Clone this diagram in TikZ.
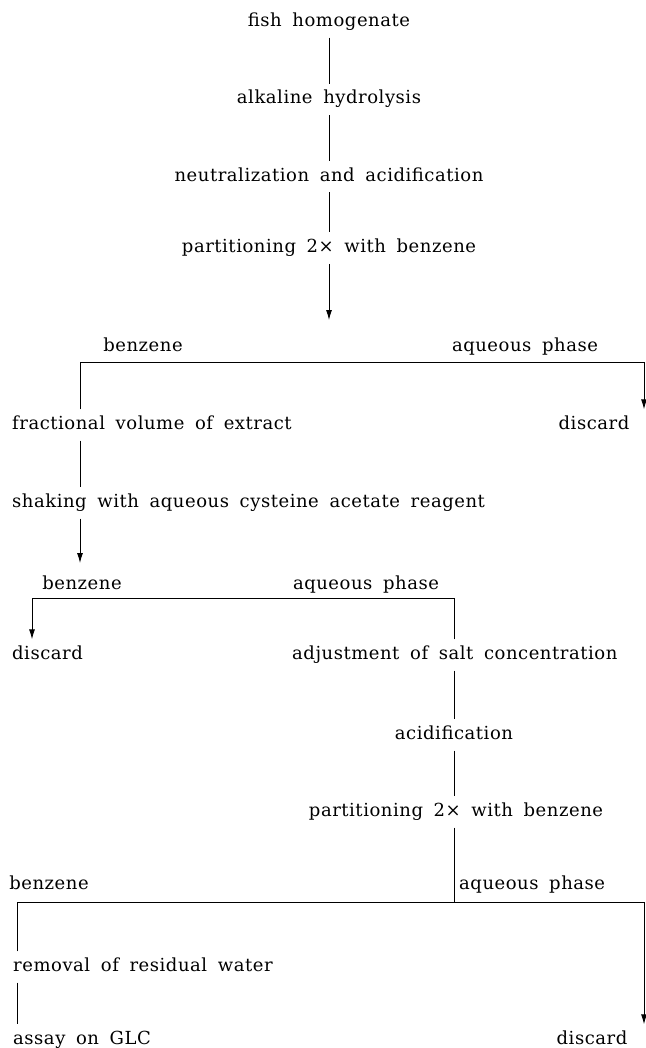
\documentclass[tikz,border=0pt]{standalone}
\usepackage{fontspec}
\setmainfont{DejaVu Serif}[LetterSpace=3, WordSpace=1.7]
\usetikzlibrary{arrows.meta,positioning}
\tikzset{
    flow/.style={line width=0.9pt},
    flowarrow/.style={flow, -{Latex[length=10pt, width=6pt]}}
}

\begin{document}
\begin{tikzpicture}[
        x=1pt, y=-1pt,
        node distance=46pt,
        stepnode/.style={inner xsep=0pt, inner ysep=7pt, text height=13pt, text depth=4pt, font=\fontsize{18}{22}\selectfont},
        leftnode/.style={stepnode, anchor=west}
    ]
    \useasboundingbox (0,0) rectangle (645,1048);

    % main column
    \node[stepnode] (fish) at (329,22) {fish homogenate};
    \node[stepnode, below=of fish] (alkali) {alkaline hydrolysis};
    \node[stepnode, below=of alkali] (neutral) {neutralization and acidification};
    \node[stepnode, below=40pt of neutral] (part1) {partitioning 2× with benzene};
    \coordinate (split1) at (329,320);

    % first split
    \coordinate (bar1l) at (80,362);
    \coordinate (bar1r) at (644,362);
    \node[stepnode] (benz1) at (143,347) {benzene};
    \node[stepnode] (aq1) at (525,347) {aqueous phase};
    \node[leftnode] (fract) at (12,425) {fractional volume of extract};
    \node[stepnode] (disc1) at (594,425) {discard};
    \node[leftnode] (shake) at (12,503) {shaking with aqueous cysteine acetate reagent};
    \coordinate (split2) at (80,563);

    % second split
    \coordinate (bar2l) at (32,598);
    \coordinate (bar2r) at (454,598);
    \node[stepnode] (benz2) at (82,585) {benzene};
    \node[stepnode] (aq2) at (366,585) {aqueous phase};
    \node[leftnode] (disc2) at (12,655) {discard};
    \node[leftnode] (adjust) at (292,655) {adjustment of salt concentration};
    \node[stepnode] (acid) at (454,735) {acidification};
    \node[stepnode] (part2) at (456,812) {partitioning 2× with benzene};

    % third split
    \coordinate (bar3l) at (17,902);
    \coordinate (bar3m) at (454,902);
    \coordinate (bar3r) at (644,902);
    \node[stepnode] (benz3) at (49,885) {benzene};
    \node[leftnode] (aq3) at (459,885) {aqueous phase};
    \node[leftnode] (removal) at (13,967) {removal of residual water};
    \node[leftnode] (assay) at (13,1040) {assay on GLC};
    \node[stepnode] (disc3) at (592,1040) {discard};

    % connectors
    \draw[flow] (fish) -- (alkali);
    \draw[flow] (alkali) -- (neutral);
    \draw[flow] (neutral) -- (part1);
    \draw[flowarrow] (part1) -- (split1);

    \draw[flow] (bar1l |- fract.north) -- (bar1l) -- (bar1r);
    \draw[flowarrow] (bar1r) -- (bar1r |- disc1.north);
    \draw[flow] (fract.south -| bar1l) -- (shake.north -| bar1l);
    \draw[flowarrow] (shake.south -| bar1l) -- (split2);

    \draw[flowarrow] (bar2r |- adjust.north) -- (bar2r) -- (bar2l) -- (bar2l |- disc2.north);
    \draw[flow] (adjust.south -| bar2r) -- (acid);
    \draw[flow] (acid) -- (part2.north -| acid);
    \draw[flow] (part2.south -| acid) -- (bar3m);

    \draw[flow] (bar3l |- removal.north) -- (bar3l) -- (bar3r);
    \draw[flowarrow] (bar3r) -- (bar3r |- disc3.north);
    \draw[flow] (removal.south -| bar3l) -- (assay.north -| bar3l);
\end{tikzpicture}
\end{document}
